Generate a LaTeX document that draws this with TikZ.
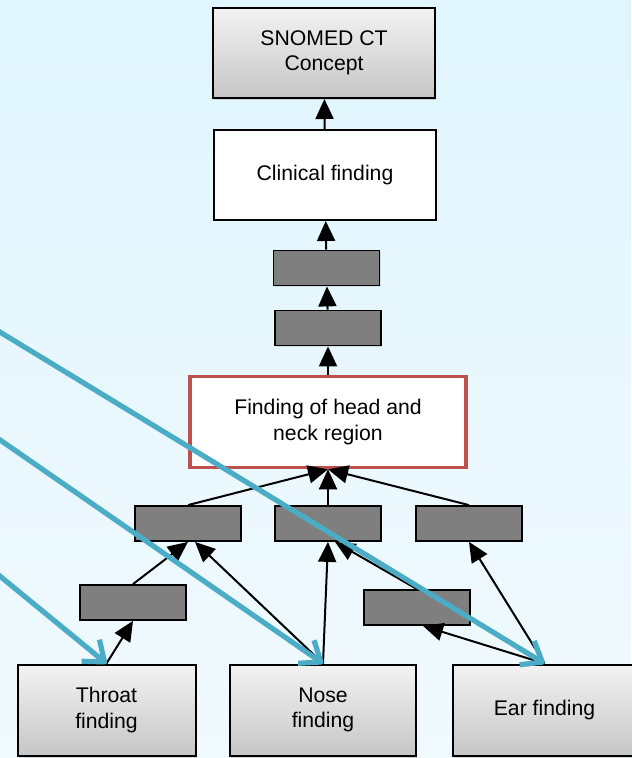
\documentclass[tikz,border=0pt]{standalone}
\usepackage{fontspec}
\setmainfont{Liberation Sans}
\usetikzlibrary{positioning, arrows.meta, shadows}
\definecolor{bgtop}{RGB}{224,245,254}
\definecolor{bgbottom}{RGB}{241,250,254}
\definecolor{greytop}{RGB}{243,243,243}
\definecolor{greybottom}{RGB}{198,198,198}
\definecolor{stubgrey}{RGB}{127,127,127}
\definecolor{headred}{RGB}{192,80,77}
\definecolor{linkblue}{RGB}{75,172,198}
\tikzstyle{greybox} = [rectangle, draw=black, line width=1pt, top color=greytop, bottom color=greybottom, align=center, font=\fontsize{10.6pt}{12.8pt}\selectfont, drop shadow={opacity=0.3, shadow xshift=0.7pt, shadow yshift=-1pt}]
\tikzstyle{findbox} = [rectangle, draw=black, line width=1pt, fill=white, align=center, font=\fontsize{10.6pt}{12.8pt}\selectfont, minimum width=111pt, minimum height=45pt]
\tikzstyle{focus} = [rectangle, draw=headred, line width=1.8pt, fill=white, align=center, font=\fontsize{10.6pt}{12.8pt}\selectfont, minimum width=138pt, minimum height=45.5pt]
\tikzstyle{stub} = [rectangle, draw=black, line width=0.9pt, fill=stubgrey, minimum width=53pt, minimum height=17.5pt, drop shadow={opacity=0.2, shadow xshift=0.5pt, shadow yshift=-0.7pt}]
\tikzstyle{arrow} = [line width=1pt, -{Triangle[length=10pt,width=9pt]}]
\tikzstyle{link} = [line width=2.6pt, draw=linkblue, line cap=round, -{Straight Barb[length=9pt,width=14pt,line join=round]}, preaction={draw=black, opacity=0.15, transform canvas={shift={(0.5pt,-0.9pt)}}}]

\begin{document}
\begin{tikzpicture}[x=0.5pt, y=-0.5pt, node distance=30pt]
	\useasboundingbox (0,0) rectangle (631,758);
	\fill[top color=bgtop, bottom color=bgbottom] (0,0) rectangle (631,758);

	\node (concept) [greybox, minimum width=111pt, minimum height=45pt] at (324,53) {SNOMED CT\\Concept};
	\node (clinical) [findbox, below of=concept, yshift=-31pt, xshift=0.5pt] {Clinical finding};
	\node (upper) [stub, below of=clinical, yshift=-16.5pt, xshift=0.75pt] {};
	\node (lower) [stub, below of=upper, xshift=0.75pt] {};
	\node (head) [focus, below of=lower, yshift=-17pt] {Finding of head and\\neck region};

	\draw [arrow] (clinical) -- (concept);
	\draw [arrow] (upper) -- (clinical);
	\draw [arrow] (lower) -- (upper);
	\draw [arrow] (head) -- (lower);

	\node (midb) [stub, below of=head, yshift=-20.75pt] {};
	\node (mida) [stub, left of=midb, xshift=-40pt] {};
	\node (midc) [stub, right of=midb, xshift=40.5pt] {};
	\node (lowd) [stub, below of=mida, xshift=-27.5pt, yshift=-9.5pt] {};
	\node (lowe) [stub, below of=midb, xshift=44.5pt, yshift=-12pt] {};

	\draw [arrow] (mida.north) -- (head.south);
	\draw [arrow] (midb) -- (head);
	\draw [arrow] (midc.north) -- (head.south);

	\node (nose) [greybox, minimum width=93pt, minimum height=45.5pt, below of=midb, yshift=-63.25pt, xshift=-2.5pt] {Nose\\finding};
	\node (throat) [greybox, minimum width=89pt, minimum height=45.5pt, left of=nose, xshift=-78.25pt] {Throat\\finding};
	\node (ear) [greybox, minimum width=92pt, minimum height=45.5pt, right of=nose, xshift=80.75pt] {Ear finding};

	\draw [arrow] (throat.north) -- (lowd.south);
	\draw [arrow] (lowd.north) -- (mida.south);
	\draw [arrow] (nose.north) -- ([xshift=3.5pt]mida.south);
	\draw [arrow] (nose.north) -- (midb.south);
	\draw [arrow] (lowe.north) -- ([xshift=3.5pt]midb.south);
	\draw [arrow] (ear.north) -- ([xshift=3pt]lowe.south);
	\draw [arrow] (ear.north) -- (midc.south);

	\coordinate (fromear) at (-10,326);
	\coordinate (fromnose) at (-10,433);
	\coordinate (fromthroat) at (-10,568);

	\draw [link] (fromear) -- (ear.north);
	\draw [link] (fromnose) -- (nose.north);
	\draw [link] (fromthroat) -- (throat.north);
\end{tikzpicture}
\end{document}
